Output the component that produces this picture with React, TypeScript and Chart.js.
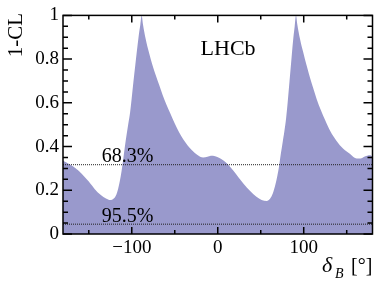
import React, { useEffect, useRef } from "react";
import { Chart, registerables } from "chart.js";

Chart.register(...registerables);

// Scan of delta_B : x in degrees, y = 1-CL
const deltaB = [
  -180, -172, -165, -158, -150, -143, -136, -130, -125, -121, -118, -116, -114, -112, -110,
  -108, -106, -104, -102, -100, -98, -96, -94, -92, -90, -88.5, -87, -85.5, -84, -82, -80,
  -78, -75, -72, -68, -64, -60, -55, -50, -45, -40, -35, -30, -24, -17, -12, -8, -3, 2, 7,
  12, 18, 24, 30, 38, 45, 51, 57, 61, 64, 67, 69.5, 71.5, 73.5, 75.5, 77.5, 79.5, 81.5,
  83.5, 85.5, 87.5, 89.5, 91, 92.5, 94, 95.5, 97.5, 99.5, 101.5, 104.5, 107.5, 111, 115,
  120, 125, 131, 138, 146, 154, 161.6, 166, 171, 177, 180,
];
const oneMinusCL = [
  0.335, 0.318, 0.3, 0.275, 0.24, 0.205, 0.178, 0.162, 0.155, 0.162, 0.18, 0.205, 0.24,
  0.285, 0.34, 0.4, 0.455, 0.505, 0.555, 0.625, 0.7, 0.77, 0.84, 0.905, 0.96, 1.0, 0.96,
  0.925, 0.895, 0.86, 0.83, 0.8, 0.76, 0.725, 0.68, 0.635, 0.595, 0.55, 0.505, 0.465,
  0.432, 0.405, 0.383, 0.363, 0.35, 0.353, 0.358, 0.356, 0.348, 0.335, 0.318, 0.29, 0.26,
  0.23, 0.195, 0.17, 0.156, 0.151, 0.162, 0.185, 0.225, 0.27, 0.315, 0.37, 0.42, 0.47,
  0.53, 0.61, 0.7, 0.79, 0.88, 0.95, 1.0, 0.96, 0.925, 0.895, 0.86, 0.83, 0.798, 0.755,
  0.713, 0.668, 0.618, 0.566, 0.52, 0.47, 0.427, 0.39, 0.366, 0.345, 0.345, 0.354, 0.36,
  0.355,
];

const xRange = [-180, 180];
const yRange = [0, 1];
const xMajorTicks = [-100, 0, 100];
const xMinorTicks = [-150, -50, 50, 150];
const yMajorTicks = [0, 0.2, 0.4, 0.6, 0.8, 1];
const yMinorTicks = [0.05, 0.1, 0.15, 0.25, 0.3, 0.35, 0.45, 0.5, 0.55, 0.65, 0.7, 0.75, 0.85, 0.9, 0.95];

const clLevels = [0.317, 0.045];
const clLabels = ["68.3%", "95.5%"];
const clLabelX = -105;

const SERIF = '"Liberation Serif", "DejaVu Serif", serif';

export default function App() {
  const ref = useRef<HTMLCanvasElement | null>(null);

  useEffect(() => {
    if (!ref.current) return;
    const curve = deltaB.map((x, i) => ({ x, y: oneMinusCL[i] }));
    const levelSets = clLevels.map((lvl) => ({
      type: "line" as const,
      data: [
        { x: xRange[0], y: lvl },
        { x: xRange[1], y: lvl },
      ],
      borderColor: "#222",
      borderWidth: 1,
      borderDash: [1, 1],
      pointRadius: 0,
      fill: false,
      order: 0,
    }));

    const decor = {
      id: "decor",
      afterDraw(chart: any) {
        const ctx = chart.ctx as CanvasRenderingContext2D;
        const xs = chart.scales.x;
        const ys = chart.scales.y;
        const { left, right, top, bottom } = chart.chartArea;
        ctx.save();
        ctx.strokeStyle = "#000";
        ctx.lineWidth = 1.5;
        ctx.strokeRect(left, top, right - left, bottom - top);
        ctx.beginPath();
        const xt = (v: number, len: number) => {
          const p = xs.getPixelForValue(v);
          ctx.moveTo(p, bottom);
          ctx.lineTo(p, bottom - len);
          ctx.moveTo(p, top);
          ctx.lineTo(p, top + len);
        };
        const yt = (v: number, len: number) => {
          const p = ys.getPixelForValue(v);
          ctx.moveTo(left, p);
          ctx.lineTo(left + len, p);
          ctx.moveTo(right, p);
          ctx.lineTo(right - len, p);
        };
        xMajorTicks.forEach((v) => xt(v, 7));
        xMinorTicks.forEach((v) => xt(v, 4));
        yMajorTicks.forEach((v) => yt(v, 9));
        yMinorTicks.forEach((v) => yt(v, 5));
        ctx.stroke();

        ctx.fillStyle = "#000";
        ctx.font = `20px ${SERIF}`;
        ctx.textAlign = "center";
        ctx.textBaseline = "alphabetic";
        clLevels.forEach((lvl, i) => {
          ctx.fillText(clLabels[i], xs.getPixelForValue(clLabelX), ys.getPixelForValue(lvl) - 2.5);
        });
        ctx.textAlign = "left";
        ctx.font = `22px ${SERIF}`;
        ctx.fillText("LHCb", xs.getPixelForValue(-20), ys.getPixelForValue(0.82));

        ctx.save();
        ctx.translate(22, 13);
        ctx.rotate(-Math.PI / 2);
        ctx.textAlign = "right";
        ctx.font = `21px ${SERIF}`;
        ctx.fillText("1-CL", 0, 0);
        ctx.restore();

        ctx.textAlign = "left";
        ctx.font = `italic 22px ${SERIF}`;
        ctx.fillText("δ", 322, 272);
        ctx.font = `italic 14px ${SERIF}`;
        ctx.fillText("B", 335, 278);
        ctx.font = `20px ${SERIF}`;
        ctx.fillText("[°]", 351, 272);
        ctx.restore();
      },
    };

    const chart = new Chart(ref.current, {
      type: "line",
      data: {
        datasets: [
          {
            data: curve,
            borderWidth: 0,
            borderColor: "rgba(0,0,0,0)",
            backgroundColor: "#9999cc",
            fill: "origin",
            pointRadius: 0,
            cubicInterpolationMode: "monotone",
            order: 1,
          },
          ...levelSets,
        ] as any,
      },
      options: {
        animation: false,
        responsive: false,
        maintainAspectRatio: false,
        events: [],
        layout: { padding: { top: 14, right: 19.5, left: 0, bottom: 0 } },
        plugins: { legend: { display: false }, tooltip: { enabled: false }, title: { display: false } },
        scales: {
          x: {
            type: "linear",
            min: xRange[0],
            max: xRange[1],
            grid: { display: false, drawTicks: false },
            border: { display: false },
            afterBuildTicks: (s: any) => {
              s.ticks = xMajorTicks.map((value) => ({ value }));
            },
            afterFit: (s: any) => {
              s.height = 48;
            },
            ticks: {
              autoSkip: false,
              maxRotation: 0,
              padding: 3,
              color: "#000",
              font: { family: SERIF, size: 19 },
              callback: (v: any) => (v < 0 ? "\u2212" + Math.abs(v) : String(v)),
            },
          },
          y: {
            type: "linear",
            min: yRange[0],
            max: yRange[1],
            grid: { display: false, drawTicks: false },
            border: { display: false },
            afterBuildTicks: (s: any) => {
              s.ticks = yMajorTicks.map((value) => ({ value }));
            },
            afterFit: (s: any) => {
              s.width = 63;
            },
            ticks: {
              autoSkip: false,
              padding: 4,
              color: "#000",
              font: { family: SERIF, size: 19 },
              callback: (v: any) => (v === 0 ? "0" : v === 1 ? "1" : Number(v).toFixed(1)),
            },
          },
        },
      },
      plugins: [decor],
    });
    return () => chart.destroy();
  }, []);

  return (
    <div style={{ position: "fixed", left: 0, top: 0, width: 392, height: 282, background: "#fff" }}>
      <canvas ref={ref} width={392} height={282} style={{ width: 392, height: 282 }} />
    </div>
  );
}
